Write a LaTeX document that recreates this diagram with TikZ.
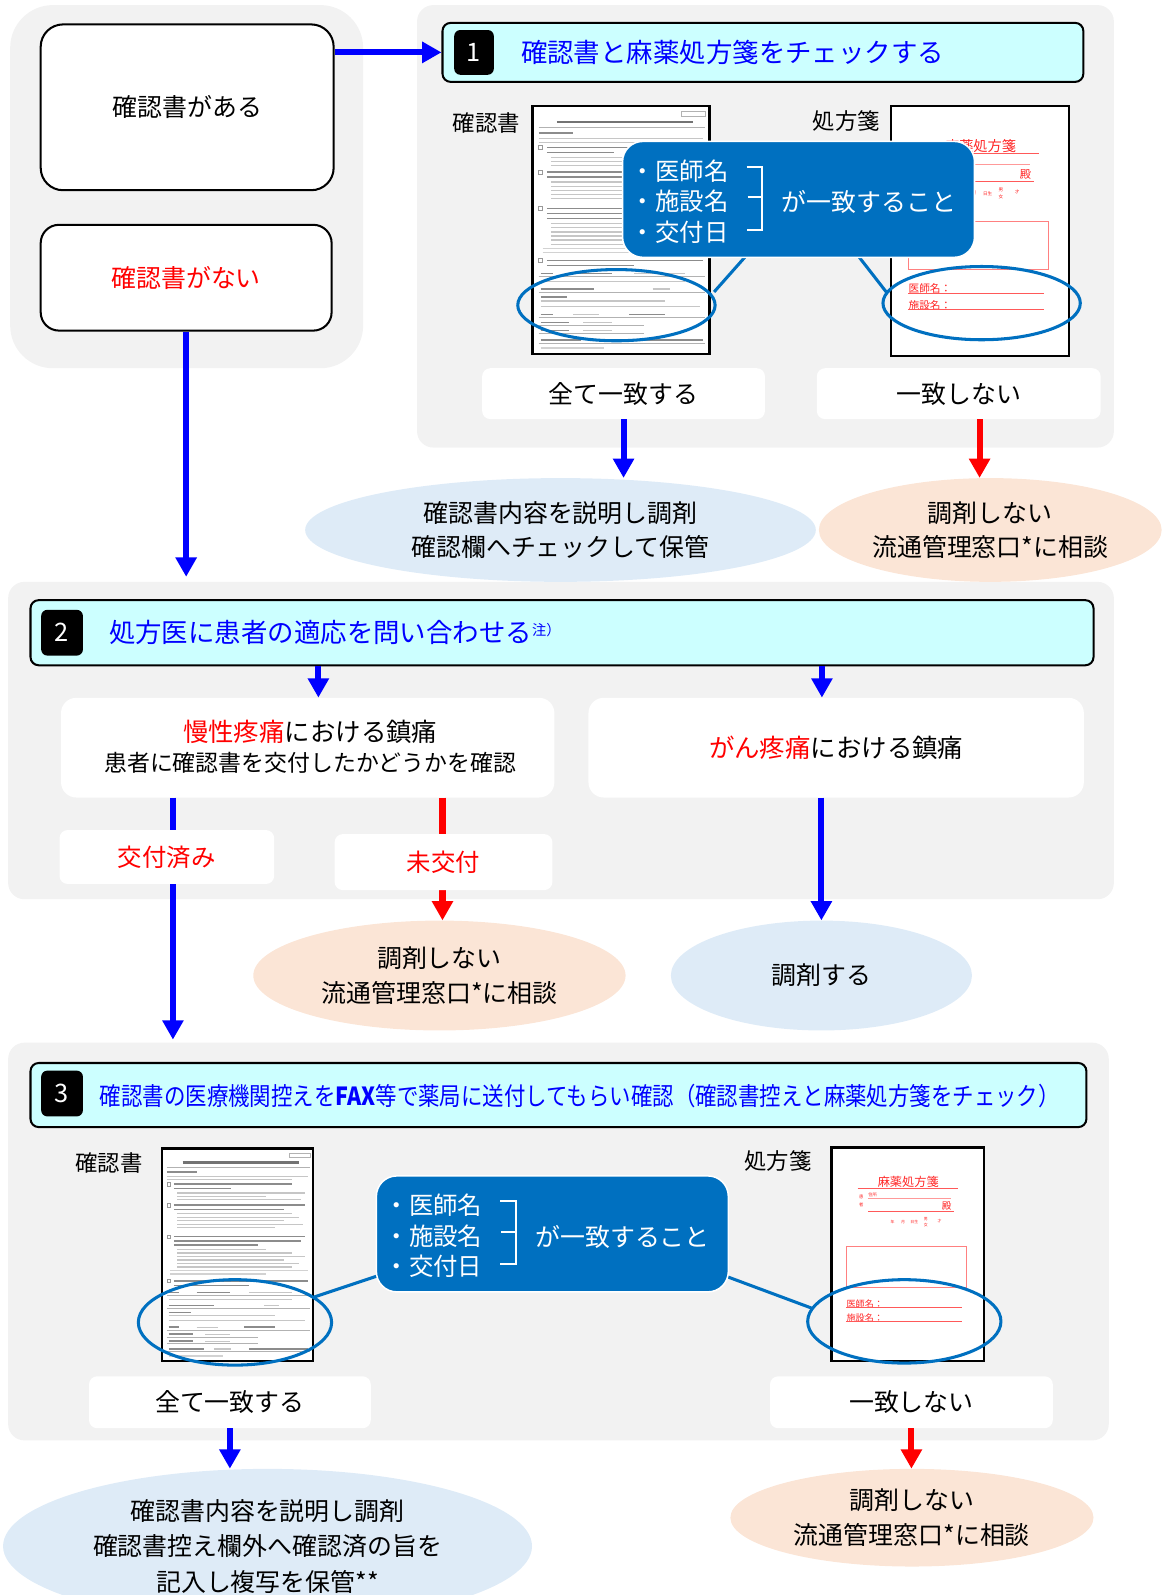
\documentclass[tikz,border=0pt]{standalone}
\usepackage{fontspec}
\setmainfont{Noto Sans CJK JP}
\newfontfamily\condfont{Noto Sans CJK JP}[FakeStretch=0.86]
\usetikzlibrary{arrows.meta,shapes.geometric,calc}
\definecolor{panelgray}{RGB}{242,242,242}
\definecolor{hdrcyan}{RGB}{204,255,255}
\definecolor{txtblue}{RGB}{0,0,255}
\definecolor{callblue}{RGB}{0,112,192}
\definecolor{okblue}{RGB}{222,235,247}
\definecolor{ngpeach}{RGB}{251,229,214}
\definecolor{txtred}{RGB}{255,0,0}
\newcommand\fsz[1]{\fontsize{#1}{#1}\selectfont}
\tikzset{
 roundbox/.style={draw=black, line width=2pt, fill=white, rounded corners=22pt, inner sep=0pt, font=\fsz{24.5}},
 hdr/.style={draw=black, line width=2pt, fill=hdrcyan, rounded corners=8pt, inner sep=0pt},
 numbox/.style={fill=black, rounded corners=6pt, text=white, inner sep=0pt, font=\fsz{25}},
 hdrtext/.style={text=txtblue, anchor=west, inner sep=0pt, font=\fsz{26}},
 whitebox/.style={fill=white, rounded corners=8pt, inner sep=0pt, font=\fsz{24.5}},
 doclabel/.style={inner sep=0pt, font=\fsz{22}},
 docframe/.style={draw=black, line width=2.2pt, fill=white, inner sep=0pt},
 callout/.style={fill=callblue, draw=white, line width=1.5pt, rounded corners=20pt, inner sep=0pt},
 calltext/.style={text=white, inner sep=0pt, font=\fsz{24}},
 callline/.style={draw=callblue, line width=3pt},
 circ/.style={draw=callblue, line width=3pt, ellipse, inner sep=0pt},
 okell/.style={ellipse, fill=okblue, inner sep=0pt, align=center, font=\fontsize{24.5}{34}\selectfont},
 ngell/.style={ellipse, fill=ngpeach, inner sep=0pt, align=center, font=\fontsize{24.5}{34}\selectfont},
 barrow/.style={draw=txtblue, line width=6pt, -{Triangle[width=20pt,length=19pt]}},
 rarrow/.style={draw=txtred, line width=6pt, -{Triangle[width=20pt,length=19pt]}},
 dtxt/.style={draw=gray!45, line width=1.2pt},
 dbold/.style={draw=black!45, line width=1.5pt},
 dthin/.style={draw=gray!60, line width=0.5pt},
 rxt/.style={text=red!85, inner sep=0pt, transform shape},
 rxl/.style={draw=red!65, line width=0.8pt},
}
\newcommand\certdoc[4]{%
\begin{scope}[shift={(#1,#2)},xscale=#3,yscale=#4]
 \draw[dthin] (146,5) rectangle (170,10);
 \draw[draw=black!55, line width=2.2pt] (24,16) -- (158,16);
 \draw[dthin] (6,21) -- (170,21);
 \draw[dbold] (6,27) -- (40,27);
 \draw[dtxt] (6,32) -- (168,32);
 \draw[dtxt] (6,36) -- (150,36);
 \foreach \y in {41,65,101,152} \draw[dthin, draw=gray!80] (6,\y-2) rectangle (10,\y+2);
 \foreach \y/\l in {41/150,46/80,65/165,70/140,101/165,106/160,111/110,152/168,157/100} \draw[dbold] (14,\y) -- (\l,\y);
 \foreach \y/\l in {51/165,55/120,59/160,75/150,79/158,83/140,87/162,91/130,116/120,120/150,124/164,128/140,132/158,136/150} \draw[dtxt] (18,\y) -- (\l,\y);
 \foreach \y/\l in {140/168,144/120} \draw[dtxt,draw=gray!35] (10,\y) -- (\l,\y);
 \draw[dbold] (8,165) -- (20,165); \draw[dbold] (40,165) -- (78,165); \draw[dtxt] (100,165) -- (150,165);
 \draw[dthin] (6,168) -- (170,168);
 \draw[dtxt] (8,173) -- (150,173);
 \draw[dbold] (8,180) -- (60,180); \draw[dtxt] (118,180) -- (135,180);
 \draw[dthin] (6,183) -- (170,183);
 \draw[dbold] (8,188) -- (34,188);
 \draw[dtxt] (8,192) -- (130,192);
 \draw[dtxt] (8,197) -- (165,197);
 \draw[dbold] (8,205) -- (20,205); \draw[dtxt] (40,205) -- (65,205); \draw[dbold] (95,205) -- (130,205);
 \draw[dthin] (6,208) -- (170,208);
 \draw[dbold] (8,213) -- (36,213); \draw[dtxt] (50,213) -- (78,213);
 \draw[dthin] (6,216) -- (110,216);
 \draw[dbold] (8,221) -- (36,221); \draw[dtxt] (50,221) -- (78,221);
 \draw[dthin] (6,224) -- (110,224);
 \draw[dbold] (8,230) -- (48,230); \draw[dtxt] (60,230) -- (80,230); \draw[dbold] (100,230) -- (168,230);
 \draw[dthin] (6,233) -- (170,233);
 \draw[dtxt,draw=gray!35] (8,238) -- (70,238);
\end{scope}}
\newcommand\rxdoc[5]{%
\begin{scope}[shift={(#1,#2)},xscale=#3,yscale=#4]
 \node[rxt, font=\fsz{14}] (#5t) at (88,40) {麻薬処方箋};
 \draw[rxl, line width=1.2pt] (30,47) -- (145,47);
 \node[rxt, font=\fsz{5}] (#5a) at (34,57) {患};
 \node[rxt, font=\fsz{5}] (#5b) at (34,66) {者};
 \node[rxt, font=\fsz{5}, anchor=west] (#5c) at (42,54) {住所};
 \draw[rxl, draw=red!40, line width=0.6pt] (42,58) -- (137,58);
 \node[rxt, font=\fsz{11}] (#5d) at (132,68) {殿};
 \draw[rxl] (42,74) -- (140,74);
 \node[rxt, font=\fsz{4.5}] (#5e) at (70,86) {年};
 \node[rxt, font=\fsz{4.5}] (#5f) at (82,86) {月};
 \node[rxt, font=\fsz{4.5}] (#5g) at (95,86) {日生};
 \node[rxt, font=\fsz{4.5}] (#5h) at (108,83) {男};
 \node[rxt, font=\fsz{4.5}] (#5i) at (108,89) {女};
 \node[rxt, font=\fsz{4.5}] (#5j) at (124,85) {才};
 \draw[rxl, draw=red!50] (17,114) rectangle (155,161);
 \node[rxt, font=\fsz{10.5}, anchor=west] (#5k) at (17,180) {医師名：};
 \draw[rxl] (17,184.5) -- (150,184.5);
 \node[rxt, font=\fsz{10.5}, anchor=west] (#5l) at (17,196) {施設名：};
 \draw[rxl] (17,200.5) -- (150,200.5);
\end{scope}}
\newcommand\callin[3]{%
 \node[calltext, anchor=west] (#3a) at (#1+8,#2-28) {・医師名};
 \node[calltext, anchor=west] (#3b) at (#1+8,#2+2) {・施設名};
 \node[calltext, anchor=west] (#3c) at (#1+8,#2+32) {・交付日};
 \draw[white, line width=2pt] (#1+122,#2-32) -- (#1+137,#2-32) -- (#1+137,#2+30) -- (#1+122,#2+30);
 \draw[white, line width=2pt] (#1+123,#2-2) -- (#1+137,#2-2);
 \node[calltext, font=\fsz{24.5}] (#3d) at (#1+242,#2+3) {が一致すること};
}
\begin{document}
\begin{tikzpicture}[x=1pt,y=-1pt]
\useasboundingbox (0,0) rectangle (1143,1568);
% panels
\fill[panelgray, rounded corners=42pt] (10,5) rectangle (357,362);
\fill[panelgray, rounded corners=16pt] (410,5) rectangle (1095,440);
\fill[panelgray, rounded corners=16pt] (8,572) rectangle (1095,884);
\fill[panelgray, rounded corners=16pt] (8,1025) rectangle (1090,1416);
% left boxes
\node[roundbox, minimum width=288pt, minimum height=163pt] (has) at (184,105.5) {確認書がある};
\node[roundbox, minimum width=286pt, minimum height=104pt, text=txtred, rounded corners=18pt] (none) at (183,273) {確認書がない};
% header 1
\node[hdr, minimum width=630pt, minimum height=58pt] (h1) at (750,51.5) {};
\node[numbox, minimum width=39pt, minimum height=44pt] (n1) at (466,51.5) {1};
\node[hdrtext] (t1) at (512,51.5) {確認書と麻薬処方箋をチェックする};
\draw[barrow] (has.east |- h1.west) -- (h1.west);
% section 1 documents
\node[docframe, minimum width=174pt, minimum height=244pt] (d1) at (610.5,226) {};
\certdoc{523.5}{104}{1}{1}
\node[doclabel] (l1) at (478,121) {確認書};
\node[docframe, minimum width=175pt, minimum height=246pt] (d2) at (963.5,227) {};
\rxdoc{876}{104}{1}{1}{rxa}
\node[doclabel] (l2) at (832,119) {処方箋};
\node[circ, minimum width=194pt, minimum height=70pt] (e1) at (606,300) {};
\node[circ, minimum width=194pt, minimum height=72pt] (e2) at (965,298) {};
\coordinate (c1a) at (733,252); \coordinate (c1b) at (702,287);
\coordinate (c1c) at (844,252); \coordinate (c1d) at (872,288);
\draw[callline] (c1a) -- (c1b);
\draw[callline] (c1c) -- (c1d);
\node[callout, minimum width=346pt, minimum height=114pt] (c1) at (785,196) {};
\callin{612}{196}{ca}
% section 1 results
\node[whitebox, minimum width=278pt, minimum height=50pt] (all1) at (613,387) {全て一致する};
\node[whitebox, minimum width=279pt, minimum height=50pt] (not1) at (942.5,387) {一致しない};
\node[okell, minimum width=502pt, minimum height=102pt] (res1) at (551,521) {確認書内容を説明し調剤\\確認欄へチェックして保管};
\node[ngell, minimum width=337pt, minimum height=102pt] (ng1) at (973.5,521) {調剤しない\\流通管理窓口*に相談};
\draw[barrow] (all1.south) -- (all1.south |- res1.north);
\coordinate (r1) at ([xshift=20.5pt]not1.south);
\draw[rarrow] (r1) -- (r1 |- ng1.north);
% arrow from none to section 2
\coordinate (nd) at (183,567);
\draw[barrow] (none.south) -- (nd);
% section 2
\node[hdr, minimum width=1045pt, minimum height=64pt] (h2) at (552.5,622) {};
\node[numbox, minimum width=41pt, minimum height=45pt] (n2) at (61,622) {2};
\node[hdrtext] (t2) at (107,622) {処方医に患者の適応を問い合わせる\raisebox{7pt}{\fsz{14}注）}};
\node[whitebox, rounded corners=15pt, minimum width=485pt, minimum height=98pt] (boxA) at (302.5,735) {};
\node[inner sep=0pt, font=\fsz{25}] (a1) at (305,719) {\textcolor{txtred}{慢性疼痛}における鎮痛};
\node[inner sep=0pt, font=\fsz{22.5}] (a2) at (305,750) {患者に確認書を交付したかどうかを確認};
\node[whitebox, rounded corners=15pt, minimum width=487pt, minimum height=98pt, font=\fsz{25}] (boxB) at (822,735) {\textcolor{txtred}{がん疼痛}における鎮痛};
\coordinate (ax) at (313,700);
\coordinate (bx) at (808,700);
\draw[barrow] (h2.south -| ax) -- (boxA.north -| ax);
\draw[barrow] (h2.south -| bx) -- (boxB.north -| bx);
\coordinate (kx) at (170,1022);
\draw[barrow] (boxA.south -| kx) -- (kx);
\node[whitebox, minimum width=211pt, minimum height=53pt, text=txtred, font=\fsz{24}] (done) at (164,842.5) {交付済み};
\node[ngell, minimum width=366pt, minimum height=108pt] (ng2) at (432,959) {調剤しない\\流通管理窓口*に相談};
\coordinate (mx) at (435,800);
\draw[rarrow] (boxA.south -| mx) -- (ng2.north -| mx);
\node[whitebox, minimum width=214pt, minimum height=55pt, text=txtred, font=\fsz{24}] (mi) at (436,847.5) {未交付};
\node[okell, minimum width=296pt, minimum height=108pt] (ok2) at (807.5,959) {調剤する};
\draw[barrow] (boxB.south -| ok2.north) -- (ok2.north);
% section 3
\node[hdr, minimum width=1038pt, minimum height=63pt] (h3) at (549,1076.5) {};
\node[numbox, minimum width=41pt, minimum height=45pt] (n3) at (61,1075) {3};
\node[hdrtext, font=\condfont\fsz{24.5}] (t3) at (98,1077) {確認書の医療機関控えを\textbf{FAX}等で薬局に送付してもらい確認（確認書控えと麻薬処方箋をチェック）};
\node[docframe, minimum width=149pt, minimum height=209pt] (d3) at (233.5,1233.5) {};
\certdoc{159}{1129}{0.856}{0.857}
\node[doclabel] (l3) at (107,1143) {確認書};
\node[docframe, minimum width=150pt, minimum height=210pt] (d4) at (892.5,1233) {};
\rxdoc{817.5}{1128}{0.857}{0.854}{rxb}
\node[doclabel] (l4) at (765,1141) {処方箋};
\node[circ, minimum width=190pt, minimum height=84pt] (e3) at (231,1300) {};
\node[circ, minimum width=190pt, minimum height=82pt] (e4) at (889,1299) {};
\coordinate (c3a) at (372,1254); \coordinate (c3b) at (309,1275);
\coordinate (c3c) at (712,1254); \coordinate (c3d) at (798,1286);
\draw[callline] (c3a) -- (c3b);
\draw[callline] (c3c) -- (c3d);
\node[callout, minimum width=346pt, minimum height=114pt] (c3) at (543,1213) {};
\callin{370}{1213}{cb}
\node[whitebox, minimum width=277pt, minimum height=51pt] (all3) at (226,1378.5) {全て一致する};
\node[whitebox, minimum width=278pt, minimum height=51pt] (not3) at (896,1378.5) {一致しない};
\node[okell, minimum width=520pt, minimum height=152pt, font=\fontsize{24.5}{35}\selectfont] (ok3) at (263,1520) {確認書内容を説明し調剤\\確認書控え欄外へ確認済の旨を\\記入し複写を保管**};
\node[ngell, minimum width=357pt, minimum height=96pt] (ng3) at (896.5,1492) {調剤しない\\流通管理窓口*に相談};
\draw[barrow] (all3.south) -- (all3.south |- ok3.north);
\draw[rarrow] (not3.south) -- (not3.south |- ng3.north);
\end{tikzpicture}
\end{document}
